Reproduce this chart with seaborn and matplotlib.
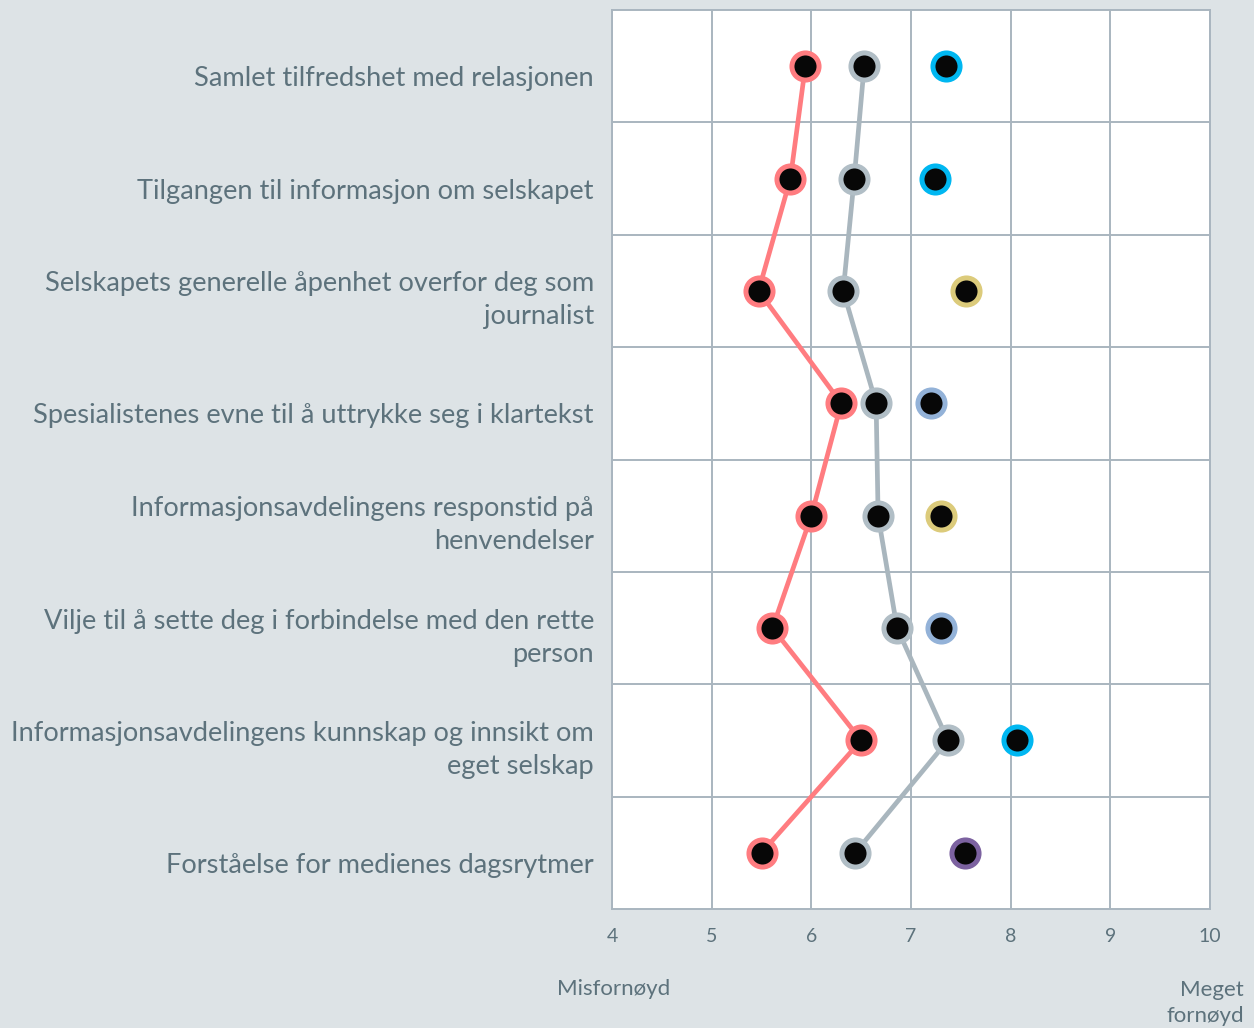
import numpy as np
import pandas as pd
import matplotlib
matplotlib.use("Agg")
import matplotlib.pyplot as plt
import matplotlib.transforms as mtransforms
import seaborn as sns

categories = [
    "Samlet tilfredshet med relasjonen",
    "Tilgangen til informasjon om selskapet",
    "Selskapets generelle åpenhet overfor deg som\njournalist",
    "Spesialistenes evne til å uttrykke seg i klartekst",
    "Informasjonsavdelingens responstid på\nhenvendelser",
    "Vilje til å sette deg i forbindelse med den rette\nperson",
    "Informasjonsavdelingens kunnskap og innsikt om\neget selskap",
    "Forståelse for medienes dagsrytmer",
]
red_values = [5.94, 5.79, 5.47, 6.30, 6.00, 5.61, 6.50, 5.50]
gray_values = [6.53, 6.43, 6.32, 6.65, 6.67, 6.86, 7.37, 6.44]
best_values = [7.35, 7.24, 7.55, 7.20, 7.30, 7.30, 8.06, 7.54]
best_colors = ["#00b7f1", "#00b7f1", "#dccb7b", "#93b2d8", "#dccb7b", "#93b2d8", "#00b7f1", "#7c62a0"]
x_ticks = [4, 5, 6, 7, 8, 9, 10]

RED = "#ff7c80"
GRAY = "#a9b6be"
GRAY_EDGE = "#b1bec6"
TXT = "#5d727c"
BG = "#dde3e6"
GRID = "#a9b5bf"

sns.set_theme(style="white")
plt.rcParams["font.family"] = ["Lato", "DejaVu Sans"]

df = pd.DataFrame({
    "cat": categories,
    "pos": np.arange(len(categories)),
    "red": red_values,
    "gray": gray_values,
    "best": best_values,
    "bcol": best_colors,
})

fig = plt.figure(figsize=(12.54, 10.28), dpi=100, facecolor=BG)
ax = fig.add_axes([612 / 1254, 1 - 909 / 1028, 598 / 1254, 899 / 1028])
ax.set_facecolor("white")

sns.lineplot(data=df, x="red", y="pos", sort=False, estimator=None, orient="y",
             color=RED, lw=3.4, ax=ax, zorder=2)
sns.lineplot(data=df, x="gray", y="pos", sort=False, estimator=None, orient="y",
             color=GRAY, lw=3.4, ax=ax, zorder=2)

ms, mew = 19.5, 3.6
for col, ec in [("red", RED), ("gray", GRAY_EDGE)]:
    ax.plot(df[col], df["pos"], ls="none", marker="o", ms=ms, mew=mew,
            mfc="#070707", mec=ec, zorder=3)
for _, r in df.iterrows():
    ax.plot([r["best"]], [r["pos"]], ls="none", marker="o", ms=ms, mew=mew,
            mfc="#070707", mec=r["bcol"], zorder=3)

ax.set_xlim(4, 10)
ax.set_ylim(len(categories) - 0.5, -0.5)
ax.set_xticks(x_ticks)
ax.set_xticklabels([str(t) for t in x_ticks], fontsize=14, color=TXT)
ax.set_yticks(df["pos"])
ax.set_yticklabels(categories, fontsize=19.6, color=TXT, ha="right", linespacing=1.4)
ax.tick_params(axis="y", which="both", length=0, pad=13)
ax.tick_params(axis="x", length=0, pad=14)
ax.grid(False)
for x in x_ticks:
    ax.axvline(x, color=GRID, lw=1.4, zorder=1)
for y in np.arange(0.5, len(categories) - 1, 1):
    ax.axhline(y, color=GRID, lw=1.4, zorder=1)
for s in ax.spines.values():
    s.set_color(GRID)
    s.set_linewidth(1.4)
ax.set_xlabel("")
ax.set_ylabel("")

for lbl in ax.get_yticklabels():
    dy = -3 if "\n" in lbl.get_text() else -10
    offset = mtransforms.ScaledTranslation(0, dy / 100, fig.dpi_scale_trans)
    lbl.set_transform(lbl.get_transform() + offset)

fig.text(557 / 1254, 1 - 989 / 1028, "Misfornøyd", fontsize=16, color=TXT, ha="left", va="center")
fig.text(1244 / 1254, 1 - 1003 / 1028, "Meget\nfornøyd", fontsize=16, color=TXT, ha="right",
         va="center", linespacing=1.4)

fig.savefig("out.png", dpi=100, facecolor=BG)
